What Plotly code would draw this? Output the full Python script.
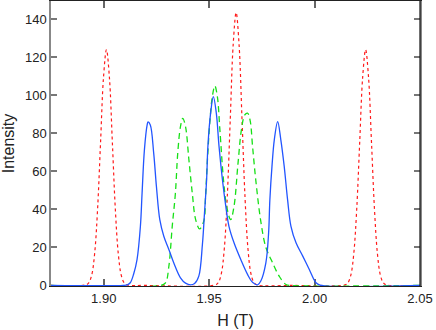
import plotly.graph_objects as go

# red dotted trace (three narrow peaks)
red_h = [1.875, 1.8915, 1.8929, 1.8943, 1.8957, 1.8971, 1.8985, 1.8999, 1.9013, 1.9027, 1.9041,
         1.9055, 1.9069, 1.9083, 1.9097, 1.9111, 1.9200,
         1.9530, 1.9544, 1.9558, 1.9572, 1.9586, 1.9600, 1.9614, 1.9628, 1.9642, 1.9656,
         1.9670, 1.9684, 1.9698, 1.9712, 1.9726, 1.9900,
         2.0144, 2.0158, 2.0172, 2.0186, 2.0200, 2.0214, 2.0228, 2.0242, 2.0256, 2.0270,
         2.0284, 2.0298, 2.0312, 2.0326, 2.0340, 2.050]
red_i = [0, 0.3, 1.4, 5.4, 16.8, 40.3, 75.2, 109.4, 124.0, 109.4, 75.2,
         40.3, 16.8, 5.4, 1.4, 0.3, 0,
         0.3, 1.6, 6.3, 19.4, 46.6, 87.0, 126.6, 143.5, 126.6, 87.0,
         46.6, 19.4, 6.3, 1.6, 0.3, 0,
         0.3, 1.4, 5.4, 16.8, 40.3, 75.2, 109.4, 124.0, 109.4, 75.2,
         40.3, 16.8, 5.4, 1.4, 0.3, 0]

# blue solid trace
blue_h = [1.875, 1.9093, 1.9112, 1.9126, 1.9142, 1.9158, 1.9174, 1.9182, 1.9193, 1.9206, 1.9210,
          1.9221, 1.9237, 1.9250, 1.9266, 1.9285, 1.9309, 1.9332, 1.9364, 1.9388, 1.9412,
          1.9431, 1.9451, 1.9468, 1.9478, 1.9488, 1.9494, 1.9507, 1.9520, 1.9534, 1.9547,
          1.9563, 1.9579, 1.9594, 1.9618, 1.9650, 1.9682, 1.9707, 1.9730, 1.9745, 1.9769,
          1.9782, 1.9788, 1.9798, 1.9809, 1.9825, 1.9840, 1.9856, 1.9872, 1.9888, 1.9912,
          1.9944, 1.9975, 2.0007, 2.0026, 2.050]
blue_i = [0, 0, 0.3, 1.4, 6.0, 13.6, 31.1, 48.6, 71.3, 84.4, 86.0,
          84.4, 69.6, 52.0, 34.6, 25.9, 18.9, 11.9, 4.0, 1.2, 0.3,
          1.0, 4.9, 21.5, 38.1, 55.6, 73.0, 90.6, 99.3, 90.6, 73.0,
          55.6, 41.6, 31.1, 22.4, 13.6, 5.8, 1.5, 0.3, 2.3, 11.9,
          27.6, 45.1, 62.6, 76.6, 86.2, 76.6, 62.6, 45.1, 31.1, 22.4,
          15.4, 8.4, 1.4, 0.2, 0]

# green dashed trace
green_h = [1.875, 1.9269, 1.9293, 1.9309, 1.9325, 1.9340, 1.9351, 1.9364, 1.9375, 1.9388, 1.9404,
           1.9420, 1.9436, 1.9455, 1.9475, 1.9483, 1.9491, 1.9504, 1.9515, 1.9527, 1.9539,
           1.9551, 1.9568, 1.9583, 1.9602, 1.9618, 1.9637, 1.9653, 1.9669, 1.9682, 1.9694,
           1.9706, 1.9721, 1.9745, 1.9769, 1.9801, 1.9832, 1.9864, 1.9888, 2.050]
green_i = [0, 0, 1.4, 10.1, 31.1, 48.6, 69.6, 83.5, 87.9, 83.5, 66.1,
           48.6, 34.6, 29.7, 34.0, 46.8, 64.3, 87.0, 99.3, 105.0, 99.3,
           81.8, 55.6, 41.6, 34.6, 41.6, 64.3, 81.8, 89.7, 90.6, 87.0,
           73.0, 55.6, 33.7, 20.0, 11.9, 4.9, 0.5, 0, 0]

x_ticks = [1.90, 1.95, 2.00, 2.05]
x_labels = ["1.90", "1.95", "2.00", "2.05"]
y_ticks = [0, 20, 40, 60, 80, 100, 120, 140]

fig = go.Figure()
fig.add_trace(go.Scatter(x=red_h, y=red_i, mode="lines", line_shape="spline",
                         line=dict(color="#ff1a1a", width=1.2, dash="dot")))
fig.add_trace(go.Scatter(x=green_h, y=green_i, mode="lines", line_shape="spline",
                         line=dict(color="#16e016", width=1.3, dash="6px,4px")))
fig.add_trace(go.Scatter(x=blue_h, y=blue_i, mode="lines", line_shape="spline",
                         line=dict(color="#2255ff", width=1.3)))

fig.update_layout(
    width=436, height=330,
    margin=dict(l=51, r=16, t=1, b=44),
    paper_bgcolor="white", plot_bgcolor="white",
    showlegend=False,
    font=dict(family="Liberation Sans, Arial, sans-serif", size=13, color="#222"),
    xaxis=dict(
        range=[1.875, 2.05], tickmode="array", tickvals=x_ticks, ticktext=x_labels,
        ticks="inside", ticklen=7, tickcolor="#666", tickwidth=1.5,
        showline=True, linecolor="#222", linewidth=1.2, mirror="ticks",
        showgrid=False, zeroline=False, layer="below traces",
        title=dict(text="H (T)", font=dict(size=16), standoff=10),
    ),
    yaxis=dict(
        range=[-0.3, 149.6], tickmode="array", tickvals=y_ticks,
        ticks="inside", ticklen=6, tickcolor="#777", tickwidth=1.5,
        showline=True, linecolor="#888", linewidth=1.5, mirror="ticks",
        showgrid=False, zeroline=False, layer="below traces",
        title=dict(text="Intensity", font=dict(size=16), standoff=6),
    ),
)

# black right border of the frame
fig.add_shape(type="line", xref="paper", yref="paper", x0=1, x1=1, y0=0, y1=1,
              line=dict(color="#111", width=1.2))

# drop the page's default body margin so the figure sits at the window corner
fig.write_html("out.html", config={"displayModeBar": False},
               post_script="document.body.style.margin='0';")
